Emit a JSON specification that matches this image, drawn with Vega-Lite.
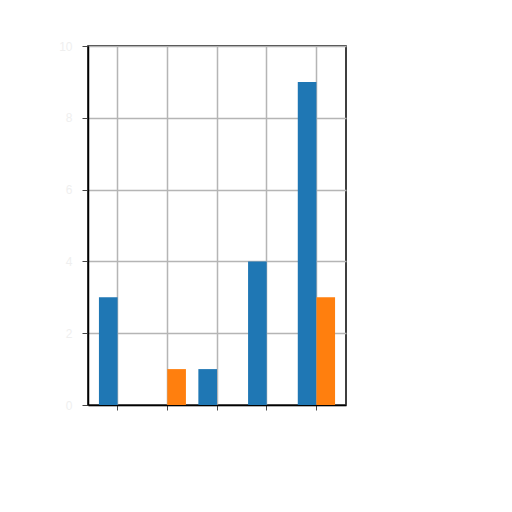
{
  "$schema": "https://vega.github.io/schema/vega-lite/v6.json",
  "autosize": "none",
  "width": 258,
  "height": 359,
  "padding": {"left": 88, "top": 46, "right": 166, "bottom": 107},
  "background": "white",
  "data": {
    "values": [
      {"group": "A", "series": "s1", "value": 3},
      {"group": "A", "series": "s2", "value": 0},
      {"group": "B", "series": "s1", "value": 0},
      {"group": "B", "series": "s2", "value": 1},
      {"group": "C", "series": "s1", "value": 1},
      {"group": "C", "series": "s2", "value": 0},
      {"group": "D", "series": "s1", "value": 4},
      {"group": "D", "series": "s2", "value": 0},
      {"group": "E", "series": "s1", "value": 9},
      {"group": "E", "series": "s2", "value": 3}
    ]
  },
  "config": {
    "view": {"stroke": "black", "strokeWidth": 1.5},
    "axis": {"gridColor": "#b5b5b5", "gridWidth": 1.5, "gridOpacity": 1, "domainColor": "black", "tickColor": "#444", "domainWidth": 1.5}
  },
  "mark": {"type": "bar"},
  "encoding": {
    "x": {
      "field": "group",
      "type": "nominal",
      "scale": {"paddingInner": 0.25, "paddingOuter": 0.22},
      "axis": {"title": null, "labels": false, "bandPosition": 0.5, "grid": true, "tickSize": 5}
    },
    "xOffset": {"field": "series", "type": "nominal"},
    "y": {
      "field": "value",
      "type": "quantitative",
      "scale": {"domain": [0, 10], "nice": false},
      "axis": {"values": [0, 2, 4, 6, 8, 10], "title": "", "labelColor": "#efefef", "labelFontSize": 12, "tickSize": 6, "labelPadding": 10}
    },
    "color": {
      "field": "series",
      "type": "nominal",
      "scale": {"domain": ["s1", "s2"], "range": ["#1f77b4", "#ff7f0e"]},
      "legend": null
    }
  }
}
